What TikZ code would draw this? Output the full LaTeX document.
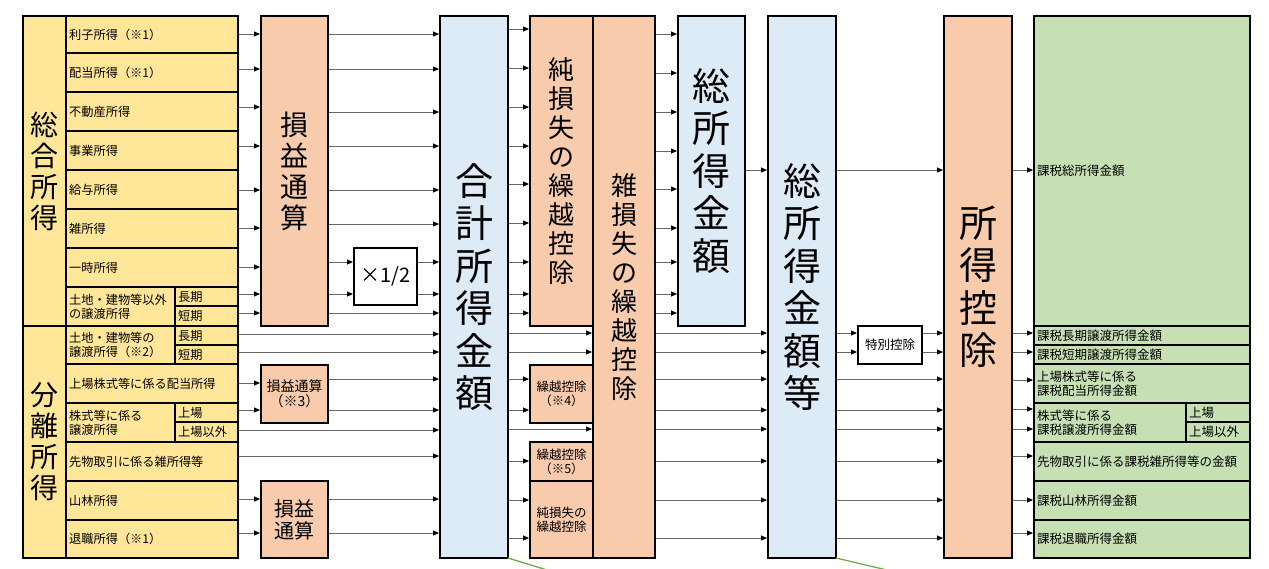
\documentclass[tikz,border=0pt]{standalone}
\usepackage{fontspec}
\setmainfont{Noto Sans CJK JP}
\usetikzlibrary{arrows.meta}
\definecolor{cy}{RGB}{255,230,153}
\definecolor{cs}{RGB}{248,203,173}
\definecolor{cb}{RGB}{221,235,247}
\definecolor{cg}{RGB}{198,224,180}
\definecolor{cl}{RGB}{112,173,71}
\newcommand\bx[7][]{\node[bxs,#1,anchor=north west,minimum width={(#5-#3)*1pt},minimum height={(#6-#4)*1pt}] (#2) at (#3,#4) {#7};}
\newcommand\cell[8][]{\bx[#1]{#3}{#4}{#5}{#6}{#7}{}\node[#2,anchor=west] (#3t) at ([xshift=3pt]#3.west) {#8};}
\newcommand\harr[3]{\draw[arr] (#1.east |- 0,#3) -- (#2.west |- 0,#3);}
\begin{document}
\begin{tikzpicture}[x=1pt,y=-1pt,
  bxs/.style={draw=black,line width=2.2pt,inner sep=0pt,outer sep=0pt,rectangle},
  arr/.style={draw=black!60,line width=0.9pt,-{Triangle[length=6pt,width=5pt,color=black]},shorten <=1pt,shorten >=1pt},
  vA/.style={align=center,font=\fontsize{28}{31}\selectfont},
  vB/.style={align=center,font=\fontsize{26}{29}\selectfont},
  vC/.style={align=center,font=\fontsize{38}{42.5}\selectfont},
  sm/.style={align=center,font=\fontsize{12.5}{14}\selectfont},
  txty/.style={align=left,font=\fontsize{12.2}{14}\selectfont,inner sep=0pt},
  txtg/.style={align=left,font=\fontsize{12.5}{14}\selectfont,inner sep=0pt}]
\useasboundingbox (0,0) rectangle (1269,568);

% ---------- left: income categories ----------
\bx[fill=cy,vA]{sogo}{23}{16}{66}{326}{総\\合\\所\\得}
\cell[fill=cy]{txty}{r1}{66}{16}{238}{53}{利子所得（※1）}
\cell[fill=cy]{txty}{r2}{66}{53}{238}{92}{配当所得（※1）}
\cell[fill=cy]{txty}{r3}{66}{92}{238}{131}{不動産所得}
\cell[fill=cy]{txty}{r4}{66}{131}{238}{170}{事業所得}
\cell[fill=cy]{txty}{r5}{66}{170}{238}{209}{給与所得}
\cell[fill=cy]{txty}{r6}{66}{209}{238}{248}{雑所得}
\cell[fill=cy]{txty}{r7}{66}{248}{238}{287}{一時所得}
\cell[fill=cy]{txty}{r8}{66}{287}{175}{326}{土地・建物等以外\\の譲渡所得}
\cell[fill=cy]{txty}{r8a}{175}{287}{238}{306}{長期}
\cell[fill=cy]{txty}{r8b}{175}{306}{238}{326}{短期}

\bx[fill=cy,vA]{bunri}{23}{326}{66}{558}{分\\離\\所\\得}
\cell[fill=cy]{txty}{r9}{66}{326}{175}{364}{土地・建物等の\\譲渡所得（※2）}
\cell[fill=cy]{txty}{r9a}{175}{326}{238}{345}{長期}
\cell[fill=cy]{txty}{r9b}{175}{345}{238}{364}{短期}
\cell[fill=cy]{txty}{r10}{66}{364}{238}{403}{上場株式等に係る配当所得}
\cell[fill=cy]{txty}{r11}{66}{403}{175}{442}{株式等に係る\\譲渡所得}
\cell[fill=cy]{txty}{r11a}{175}{403}{238}{422}{上場}
\cell[fill=cy]{txty}{r11b}{175}{422}{238}{442}{上場以外}
\cell[fill=cy]{txty}{r12}{66}{442}{238}{481}{先物取引に係る雑所得等}
\cell[fill=cy]{txty}{r13}{66}{481}{238}{520}{山林所得}
\cell[fill=cy]{txty}{r14}{66}{520}{238}{558}{退職所得（※1）}

% ---------- process boxes ----------
\bx[fill=cs,vA]{sA}{261}{16}{328}{326}{損\\益\\通\\算}
\bx[fill=white,font=\fontsize{20}{22}\selectfont]{x12}{354}{248}{417}{305}{×1/2}
\bx[fill=cs,align=center,font=\fontsize{14}{15}\selectfont]{sB}{261}{365}{328}{423}{損益通算\\（※3）}
\bx[fill=cs,align=center,font=\fontsize{20}{22}\selectfont]{sC}{261}{481}{328}{558}{損益\\通算}

\bx[fill=cb,vC]{gk}{440}{16}{508}{558}{合\\計\\所\\得\\金\\額}

\bx[fill=cs,vB]{jA}{530}{16}{593}{326}{純\\損\\失\\の\\繰\\越\\控\\除}
\bx[fill=cs,sm]{k4}{530}{365}{593}{423}{繰越控除\\（※4）}
\bx[fill=cs,sm]{k5}{530}{442}{593}{481}{繰越控除\\（※5）}
\bx[fill=cs,sm]{jC}{530}{481}{593}{558}{純損失の\\繰越控除}
\bx[fill=cs,vB]{zB}{593}{16}{655}{558}{雑\\損\\失\\の\\繰\\越\\控\\除}

\bx[fill=cb,vC]{sk}{678}{16}{745}{326}{総\\所\\得\\金\\額}
\bx[fill=cb,vC]{skt}{768}{16}{836}{558}{総\\所\\得\\金\\額\\等}
\bx[fill=white,sm]{tb}{858}{326}{922}{364}{特別控除}
\bx[fill=cs,vC]{sk2}{944}{16}{1012}{558}{所\\得\\控\\除}

% ---------- taxable amounts ----------
\cell[fill=cg]{txtg}{g1}{1034}{16}{1250}{326}{課税総所得金額}
\cell[fill=cg]{txtg}{g2}{1034}{326}{1250}{345}{課税長期譲渡所得金額}
\cell[fill=cg]{txtg}{g3}{1034}{345}{1250}{364}{課税短期譲渡所得金額}
\cell[fill=cg]{txtg}{g4}{1034}{364}{1250}{403}{上場株式等に係る\\課税配当所得金額}
\cell[fill=cg]{txtg}{g5}{1034}{403}{1186}{442}{株式等に係る\\課税譲渡所得金額}
\cell[fill=cg]{txtg}{g5a}{1186}{403}{1250}{422}{上場}
\cell[fill=cg]{txtg}{g5b}{1186}{422}{1250}{442}{上場以外}
\cell[fill=cg]{txtg}{g6}{1034}{442}{1250}{481}{先物取引に係る課税雑所得等の金額}
\cell[fill=cg]{txtg}{g7}{1034}{481}{1250}{520}{課税山林所得金額}
\cell[fill=cg]{txtg}{g8}{1034}{520}{1250}{558}{課税退職所得金額}

% ---------- connectors ----------
\harr{r1}{sA}{34}\harr{r2}{sA}{69}\harr{r3}{sA}{107}\harr{r4}{sA}{146}
\harr{r5}{sA}{190}\harr{r6}{sA}{228}\harr{r7}{sA}{267}\harr{r8a}{sA}{294}\harr{r8b}{sA}{313}

\harr{sA}{gk}{34}\harr{sA}{gk}{69}\harr{sA}{gk}{112}\harr{sA}{gk}{146}
\harr{sA}{gk}{190}\harr{sA}{gk}{224}
\harr{sA}{x12}{262}\harr{sA}{x12}{294}
\harr{x12}{gk}{262}\harr{x12}{gk}{294}
\harr{sA}{gk}{313}

\harr{r9a}{gk}{334}\harr{r9b}{gk}{352}
\harr{r10}{sB}{383}\harr{r11a}{sB}{410}
\harr{r11b}{gk}{430}\harr{r12}{gk}{456}
\harr{r13}{sC}{499}\harr{r14}{sC}{533}
\harr{sB}{gk}{379}\harr{sB}{gk}{410}
\harr{sC}{gk}{499}\harr{sC}{gk}{533}

\harr{gk}{jA}{29}\harr{gk}{jA}{68}\harr{gk}{jA}{107}\harr{gk}{jA}{146}
\harr{gk}{jA}{184}\harr{gk}{jA}{223}\harr{gk}{jA}{262}\harr{gk}{jA}{294}\harr{gk}{jA}{313}
\harr{gk}{zB}{333}\harr{gk}{zB}{352}\harr{gk}{zB}{429}
\harr{gk}{k4}{379}\harr{gk}{k4}{410}
\harr{gk}{k5}{461}
\harr{gk}{jC}{500}\harr{gk}{jC}{538}

\harr{zB}{sk}{34}\harr{zB}{sk}{73}\harr{zB}{sk}{112}\harr{zB}{sk}{151}
\harr{zB}{sk}{189}\harr{zB}{sk}{228}\harr{zB}{sk}{262}\harr{zB}{sk}{294}\harr{zB}{sk}{313}
\harr{zB}{skt}{333}\harr{zB}{skt}{352}\harr{zB}{skt}{379}\harr{zB}{skt}{410}
\harr{zB}{skt}{429}\harr{zB}{skt}{461}\harr{zB}{skt}{500}\harr{zB}{skt}{538}
\harr{sk}{skt}{170}

\harr{skt}{sk2}{170}
\harr{skt}{tb}{333}\harr{skt}{tb}{352}
\harr{tb}{sk2}{333}\harr{tb}{sk2}{352}
\harr{skt}{sk2}{379}\harr{skt}{sk2}{410}\harr{skt}{sk2}{429}
\harr{skt}{sk2}{461}\harr{skt}{sk2}{500}\harr{skt}{sk2}{538}

\harr{sk2}{g1}{170}\harr{sk2}{g2}{333}\harr{sk2}{g3}{352}\harr{sk2}{g4}{380}
\harr{sk2}{g5}{409}\harr{sk2}{g5}{429}\harr{sk2}{g6}{456}\harr{sk2}{g7}{500}\harr{sk2}{g8}{533}

% ---------- green lines leaving the picture ----------
\coordinate (e1) at (547,570);
\coordinate (e2) at (887,570);
\draw[cl,line width=1.3pt] (gk.south east) -- (e1);
\draw[cl,line width=1.3pt] (skt.south east) -- (e2);
\end{tikzpicture}
\end{document}
